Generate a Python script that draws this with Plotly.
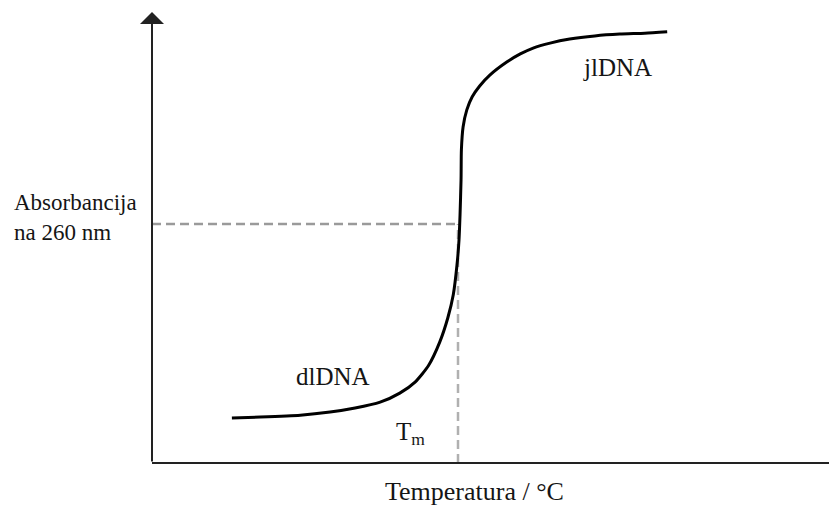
import plotly.graph_objects as go

# Melting curve of DNA (schematic)
temperature = [11.8, 16.0, 21.9, 26.3, 30.0, 33.7, 36.6, 38.9, 40.8, 42.5, 43.7,
               44.5, 45.05, 45.35, 45.5, 45.65, 45.7, 45.95, 46.5, 47.3, 48.4,
               49.9, 52.4, 54.4, 56.3, 58.8, 61.7, 65.4, 69.1, 72.8, 76.1]
absorbance = [10.0, 10.2, 10.6, 11.3, 12.2, 13.5, 15.5, 18.0, 21.5, 26.8, 32.2,
              37.3, 43.9, 49.5, 55.0, 62.8, 69.4, 74.5, 78.3, 81.2, 83.6,
              86.0, 88.9, 90.7, 92.0, 93.1, 94.0, 94.7, 95.1, 95.3, 95.6]
tm_value = 45.2          # melting temperature
half_absorbance = 53.0   # absorbance at Tm

y_label = "Absorbancija<br>na 260 nm"
x_label = "Temperatura / °C"
low_label = "dlDNA"
high_label = "jlDNA"
tm_label = "T<sub>m</sub>"

FONT = "Liberation Serif"
TXT = "#151515"
AXC = "#222222"

fig = go.Figure()

# dashed guides
fig.add_trace(go.Scatter(x=[0, tm_value], y=[half_absorbance, half_absorbance],
                         mode="lines", line=dict(color="#9a9a9a", width=2.5, dash="9px,5px"),
                         hoverinfo="skip", showlegend=False))
fig.add_trace(go.Scatter(x=[tm_value, tm_value], y=[0, half_absorbance],
                         mode="lines", line=dict(color="#b0b0b0", width=2.5, dash="9px,5px"),
                         hoverinfo="skip", showlegend=False))

# curve
fig.add_trace(go.Scatter(x=temperature, y=absorbance, mode="lines",
                         line=dict(color="#000000", width=3, shape="spline", smoothing=0.6),
                         hoverinfo="skip", showlegend=False))

# x-axis arrow head, mostly beyond the right edge of the page
fig.add_trace(go.Scatter(x=[100.45], y=[0], mode="markers", cliponaxis=False,
                         marker=dict(symbol="triangle-right", size=14, color=AXC),
                         hoverinfo="skip", showlegend=False))

# x-axis line
fig.add_shape(type="line", xref="paper", yref="paper", x0=0, y0=0, x1=1.02, y1=0,
              line=dict(color=AXC, width=2))

anns = []
# y-axis arrow
anns.append(dict(x=0, y=1, xref="paper", yref="paper", ax=0, ay=451,
                 axref="pixel", ayref="pixel",
                 showarrow=True, arrowhead=1, arrowsize=2, arrowwidth=2,
                 arrowcolor=AXC, text=""))

anns.append(dict(x=-0.2068, y=0.545, xref="paper", yref="paper", text=y_label,
                 showarrow=False, xanchor="left", yanchor="middle", align="left",
                 font=dict(family=FONT, size=23, color=TXT)))
anns.append(dict(x=0.477, y=-0.064, xref="paper", yref="paper", text=x_label,
                 showarrow=False, xanchor="center", yanchor="middle",
                 font=dict(family=FONT, size=26, color=TXT)))
anns.append(dict(x=0.267, y=0.191, xref="paper", yref="paper", text=low_label,
                 showarrow=False, xanchor="center", yanchor="middle",
                 font=dict(family=FONT, size=25, color=TXT)))
anns.append(dict(x=0.687, y=0.878, xref="paper", yref="paper", text=high_label,
                 showarrow=False, xanchor="center", yanchor="middle",
                 font=dict(family=FONT, size=25, color=TXT)))
anns.append(dict(x=0.382, y=0.066, xref="paper", yref="paper", text=tm_label,
                 showarrow=False, xanchor="center", yanchor="middle",
                 font=dict(family=FONT, size=25, color=TXT)))

fig.update_layout(
    width=829, height=506,
    margin=dict(l=152, r=0, t=12, b=43),
    paper_bgcolor="white", plot_bgcolor="white",
    xaxis=dict(range=[0, 100], visible=False, fixedrange=True),
    yaxis=dict(range=[0, 100], visible=False, fixedrange=True),
    annotations=anns,
    showlegend=False,
    hovermode=False,
)

# remove the default page margin so the figure fills the window exactly
fig.write_html("out.html",
               config={"displayModeBar": False},
               post_script="document.body.style.margin='0';document.body.style.overflow='hidden';")
